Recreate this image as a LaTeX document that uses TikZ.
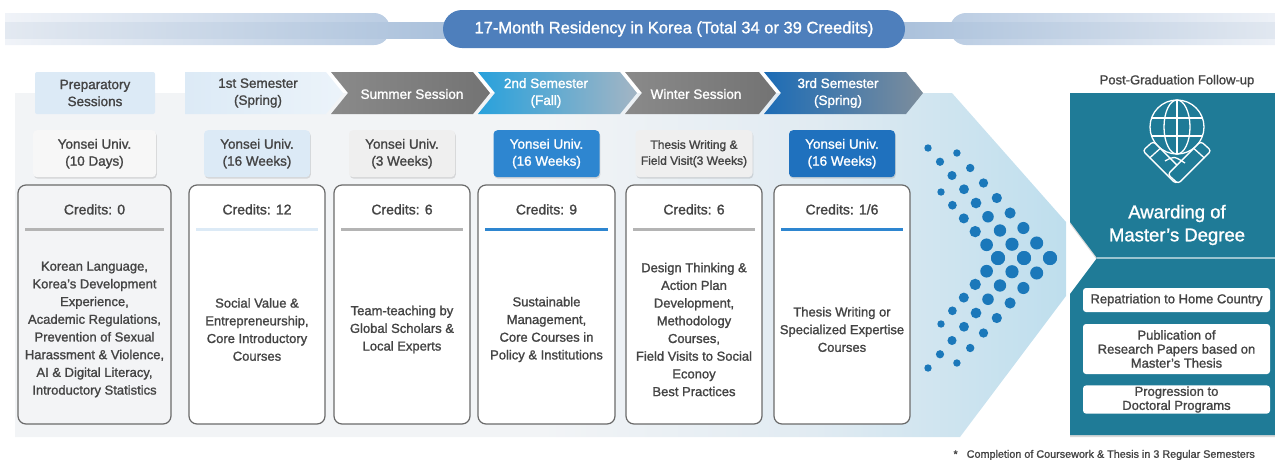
\documentclass[tikz,border=0pt]{standalone}
\usepackage{fontspec}
\setmainfont{Liberation Sans}[FakeBold=1.3]
\usetikzlibrary{positioning,shadows}

\definecolor{txtgray}{HTML}{444444}
\definecolor{linegray}{HTML}{6A6A6A}
\definecolor{paleblue}{HTML}{DCEAF6}
\definecolor{sumgray}{HTML}{8A8A8A}
\definecolor{sumdark}{HTML}{737373}
\definecolor{brightblue}{HTML}{28A1DC}
\definecolor{steelblue}{HTML}{A3B5C4}
\definecolor{deepblue}{HTML}{1C6CB6}
\definecolor{slateblue}{HTML}{7D8D9C}
\definecolor{bgleft}{HTML}{F2F4F6}
\definecolor{bgmid}{HTML}{E1EBF2}
\definecolor{bgright}{HTML}{BEDEED}
\definecolor{barlight}{HTML}{F0F3F8}
\definecolor{barmid}{HTML}{BBCDE3}
\definecolor{bandlight}{HTML}{E3E9F1}
\definecolor{banddark}{HTML}{A9C0DB}
\definecolor{pillblue}{HTML}{4E7FBC}
\definecolor{panelteal}{HTML}{1F7B97}
\definecolor{dotblue}{HTML}{1B78BA}
\definecolor{cardgray}{HTML}{F3F4F6}
\definecolor{boxgray}{HTML}{EFEFEF}
\definecolor{boxwhite}{HTML}{F7F7F7}
\definecolor{boxblue}{HTML}{2E86D0}
\definecolor{boxdeep}{HTML}{1F71BE}
\definecolor{sepgray}{HTML}{B4B4B4}

\pgfdeclarehorizontalshading{bgfade}{100bp}{color(0bp)=(bgleft); color(25bp)=(bgleft); color(50bp)=(bgleft); color(63bp)=(bgmid); color(75bp)=(bgright); color(100bp)=(bgright)}

\begin{document}
\begin{tikzpicture}[x=1pt,y=-1pt,
    card/.style={draw=linegray,line width=1.2pt,rounded corners=8pt,fill=white,minimum height=239pt},
    uni box/.style={rounded corners=4pt,minimum height=47pt,inner sep=1pt,align=center,
        font=\fontsize{13.5}{17}\selectfont,text=txtgray,
        drop shadow={opacity=0.25,shadow xshift=0.8pt,shadow yshift=-1.5pt}},
    credit/.style={font=\fontsize{14}{16}\selectfont,text=txtgray},
    body text/.style={align=center,font=\fontsize{13}{17.7}\selectfont,text=txtgray},
    head text/.style={align=center,font=\fontsize{13.5}{17}\selectfont},
    sep line/.style={line width=3pt},
    dot/.style={fill=dotblue},
    icon/.style={draw=white,line width=1.3pt},
    title pill/.style={fill=pillblue,rounded corners=19pt,minimum width=462pt,minimum height=38pt,
        text=white,font=\fontsize{16.5}{19}\selectfont},
    follow box/.style={fill=white,rounded corners=3pt,minimum width=187pt,inner sep=1pt,align=center,
        font=\fontsize{13}{14}\selectfont,text=txtgray}]

    \useasboundingbox (0,0) rectangle (1275,459);

    % Top banner
    \shade[left color=barlight,right color=barmid] (5,13) -- (374,13) arc[start angle=-90,end angle=90,radius=16] -- (5,45) -- cycle;
    \shade[left color=barmid,right color=barlight] (1290,13) -- (966,13) arc[start angle=270,end angle=90,radius=16] -- (1290,45) -- cycle;
    \shade[left color=bandlight,right color=banddark] (5,22) rectangle (460,38);
    \shade[left color=banddark,right color=bandlight] (890,22) rectangle (1290,38);
    \node[title pill] (title) at (674,29) {17-Month Residency in Korea (Total 34 or 39 Creedits)};

    % Background arrow
    \shade[shading=bgfade] (15,93) -- (952,93) -- (1066,222) -- (1066,296) -- (960,437) -- (15,437) -- cycle;

    % Period headers
    \fill[paleblue,rounded corners=2pt] (35,72) rectangle (155,114);
    \shade[left color=paleblue,right color=paleblue!55] (185,72) -- (326,72) -- (343,93) -- (326,114) -- (185,114) -- cycle;
    \shade[left color=sumgray,right color=sumdark] (331,72) -- (473,72) -- (490,93) -- (473,114) -- (331,114) -- (348,93) -- cycle;
    \shade[left color=brightblue,right color=steelblue] (478,72) -- (620,72) -- (637,93) -- (620,114) -- (478,114) -- (495,93) -- cycle;
    \shade[left color=sumgray,right color=sumdark] (625,72) -- (759,72) -- (776,93) -- (759,114) -- (625,114) -- (642,93) -- cycle;
    \shade[left color=deepblue,right color=slateblue] (764,72) -- (906,72) -- (923,93) -- (906,114) -- (764,114) -- (781,93) -- cycle;

    \node[head text,text=txtgray] (prep) at (95,93) {Preparatory\\Sessions};
    \node[head text,text=txtgray] (sem1) at (258,93) {1st Semester\\(Spring)};
    \node[head text,text=white] (summer) at (412,94) {Summer Session};
    \node[head text,text=white] (sem2) at (546,93) {2nd Semester\\(Fall)};
    \node[head text,text=white] (winter) at (696,94) {Winter Session};
    \node[head text,text=white] (sem3) at (838,93) {3rd Semester\\(Spring)};

    % Dotted chevron
    \foreach \tipx/\ndots/\dx/\dy in {1050/7/13.3/15, 1024/8/12/13.75, 998/5/11.4/13.2}{
        \foreach \i in {0,...,\ndots}{
            \fill[dot] ({\tipx-\i*\dx},{258-\i*\dy}) circle ({7-3.3*\i/\ndots});
            \fill[dot] ({\tipx-\i*\dx},{258+\i*\dy}) circle ({7-3.3*\i/\ndots});
        }
    }

    % Follow-up panel
    \fill[panelteal,drop shadow={opacity=0.3,shadow xshift=0pt,shadow yshift=-2pt}] (1070,93) -- (1290,93) -- (1290,435) -- (1070,435) -- (1070,294) -- (1097,258) -- (1070,222) -- cycle;
    \node[font=\fontsize{13}{15}\selectfont,text=txtgray] (post) at (1177,81) {Post-Graduation Follow-up};

    \draw[icon] (1177,127) circle (27);
    \draw[icon] (1177,127) ellipse (13 and 27);
    \draw[icon] (1177,100) -- (1177,154);
    \draw[icon] (1151.5,118) -- (1202.5,118);
    \draw[icon] (1151.5,136) -- (1202.5,136);
    \filldraw[icon,fill=panelteal,rounded corners=3pt] (1142.8,150.7) -- (1153.2,141.3) -- (1186.2,174.3) -- (1175.8,183.7) -- cycle;
    \draw[icon] (1149.5,158.1) -- (1159.9,148.7);
    \filldraw[icon,fill=panelteal,rounded corners=3pt] (1211.2,150.7) -- (1200.8,141.3) -- (1167.8,174.3) -- (1178.2,183.7) -- cycle;
    \draw[icon] (1204.5,158.1) -- (1194.1,148.7);
    \draw[icon] (1165,161) .. controls (1174,156) .. (1185,163);

    \node[align=center,text=white,font=\fontsize{18.5}{23}\selectfont] (award) at (1177,225) {Awarding of\\Master’s Degree};
    \draw[white!55!panelteal,line width=1.2pt] (1097,258) -- (1275,258);
    \node[follow box,minimum height=24pt] (f1) at (1176.5,300) {Repatriation to Home Country};
    \node[follow box,minimum height=50pt] (f2) at (1176.5,349) {Publication of\\Research Papers based on\\Master’s Thesis};
    \node[follow box,minimum height=27pt] (f3) at (1176.5,399.5) {Progression to\\Doctoral Programs};

    % Course cards
    \node[card,fill=cardgray,minimum width=153pt] (c1) at (94.5,304.5) {};
    \node[card,minimum width=136pt] (c2) at (257,304.5) {};
    \node[card,minimum width=136pt] (c3) at (402,304.5) {};
    \node[card,minimum width=137pt] (c4) at (546.5,304.5) {};
    \node[card,minimum width=136pt] (c5) at (694,304.5) {};
    \node[card,minimum width=136pt] (c6) at (842,304.5) {};

    % Institution boxes
    \node[uni box,fill=boxwhite,minimum width=123pt,above=7pt of c1] (u1) {Yonsei Univ.\\(10 Days)};
    \node[uni box,fill=paleblue,minimum width=106pt,above=7pt of c2] (u2) {Yonsei Univ.\\(16 Weeks)};
    \node[uni box,fill=boxgray,minimum width=106pt,above=7pt of c3] (u3) {Yonsei Univ.\\(3 Weeks)};
    \node[uni box,fill=boxblue,text=white,minimum width=106pt,above=7pt of c4] (u4) {Yonsei Univ.\\(16 Weeks)};
    \node[uni box,fill=boxgray,minimum width=117pt,font=\fontsize{12}{16}\selectfont,above=7pt of c5] (u5) {Thesis Writing \&\\Field Visit(3 Weeks)};
    \node[uni box,fill=boxdeep,text=white,minimum width=106pt,above=7pt of c6] (u6) {Yonsei Univ.\\(16 Weeks)};

    % Credits and separators
    \foreach \c/\cr/\col in {c1/0/sepgray, c2/12/paleblue, c3/6/sepgray, c4/9/boxblue, c5/6/sepgray, c6/1\slash 6/boxblue}{
        \node[credit] (cr\c) at ([yshift=-25pt]\c.north) {Credits: \cr};
        \draw[sep line,draw=\col] ([xshift=8pt,yshift=-45pt]\c.north west) -- ([xshift=-8pt,yshift=-45pt]\c.north east);
    }

    % Course contents
    \node[body text] (b1) at ([yshift=-25pt]c1.center) {Korean Language,\\Korea’s Development\\Experience,\\Academic Regulations,\\Prevention of Sexual\\Harassment \& Violence,\\AI \& Digital Literacy,\\Introductory Statistics};
    \node[body text] (b2) at ([yshift=-25pt]c2.center) {Social Value \&\\Entrepreneurship,\\Core Introductory\\Courses};
    \node[body text] (b3) at ([yshift=-25pt]c3.center) {Team-teaching by\\Global Scholars \&\\Local Experts};
    \node[body text] (b4) at ([yshift=-25pt]c4.center) {Sustainable\\Management,\\Core Courses in\\Policy \& Institutions};
    \node[body text] (b5) at ([yshift=-25pt]c5.center) {Design Thinking \&\\Action Plan\\Development,\\Methodology\\Courses,\\Field Visits to Social\\Econoy\\Best Practices};
    \node[body text] (b6) at ([yshift=-25pt]c6.center) {Thesis Writing or\\Specialized Expertise\\Courses};

    \node[anchor=west,font=\fontsize{10.8}{12}\selectfont,text=txtgray] (note) at (950,455) {*\hspace{9pt}Completion of Coursework \& Thesis in 3 Regular Semesters};

\end{tikzpicture}
\end{document}
